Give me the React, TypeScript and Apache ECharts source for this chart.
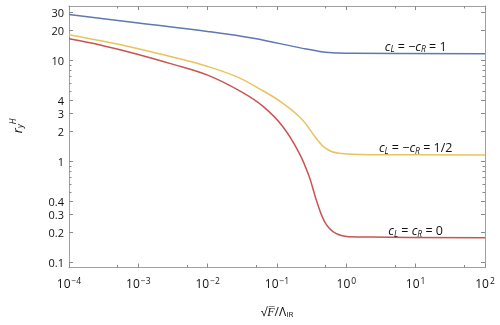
import React, { useEffect, useRef } from 'react';
import * as echarts from 'echarts';

// ---- data (raw values; axes are log10) ----
const xRange = [1e-4, 1e2];
const yRange = [0.089, 34.7];

const xMajorTicks = [1e-4, 1e-3, 1e-2, 1e-1, 1, 10, 100];
const xMinorTicks = [5e-4, 5e-3, 5e-2, 0.5, 5, 50];
const yLabelTicks = [0.1, 0.2, 0.3, 0.4, 1, 2, 3, 4, 10, 20, 30];
const yMinorTicks = [0.5, 0.6, 0.7, 0.8, 0.9, 5, 6, 7, 8, 9];

// c_L = -c_R = 1
const xBlue = [1e-4, 1e-3, 1e-2, 0.0456, 0.234, 0.502, 0.7, 1.2, 100];
const yBlue = [28.6, 23.5, 19.4, 16.6, 13.2, 12.05, 11.9, 11.78, 11.7];

// c_L = -c_R = 1/2
const xYellow = [1e-4, 3e-4, 1e-3, 3e-3, 1e-2, 0.0261, 0.0568, 0.122, 0.234, 0.362, 0.502, 0.78, 2.32, 100];
const yYellow = [18.0, 15.6, 13.1, 10.9, 8.73, 6.92, 5.22, 3.77, 2.58, 1.72, 1.35, 1.205, 1.167, 1.16];

// c_L = c_R = 0
const xRed = [1e-4, 3e-4, 1e-3, 3e-3, 1e-2, 0.0316, 0.0631, 0.1216, 0.21, 0.291, 0.382, 0.502, 0.697, 1.08, 2.32, 100];
const yRed = [16.4, 14.1, 11.5, 9.27, 7.16, 4.84, 3.51, 2.21, 1.205, 0.708, 0.385, 0.244, 0.195, 0.18, 0.178, 0.175];

// annotation anchors [x, y] and texts
const annBlue = [10, 13.9];
const annYellow = [10, 1.37];
const annRed = [10, 0.205];
const annTexts = [
  '{i|c}{sub|L}{n| = −}{i|c}{sub|R}{n| = 1}',
  '{i|c}{sub|L}{n| = −}{i|c}{sub|R}{n| = 1/2}',
  '{i|c}{sub|L}{n| = }{i|c}{sub|R}{n| = 0}',
];

const FONT = 'Open Sans';
const L = Math.log10;
const frameColor = '#a0a0a0';
const tickColor = '#8a8a8a';
const colors = ['#5f78b0', '#e9c35f', '#cc5252'];

const annRich = {
  i: { fontFamily: FONT, fontSize: 12.5, fontStyle: 'italic', color: '#111' },
  n: { fontFamily: FONT, fontSize: 12.5, color: '#111' },
  sub: { fontFamily: FONT, fontSize: 8.5, fontStyle: 'italic', color: '#111', padding: [5, 0, 0, 0] },
};

function fmtExp(v: number) {
  const n = Math.round(v);
  return n < 0 ? '−' + Math.abs(n) : String(n);
}

function mkSeries(xs: number[], ys: number[], color: string, ann: number[], text: string) {
  return {
    type: 'line',
    xAxisIndex: 0,
    yAxisIndex: 0,
    showSymbol: false,
    smooth: 0.4,
    lineStyle: { color, width: 1.5 },
    itemStyle: { color },
    data: xs.map((x, i) => [L(x), L(ys[i])]),
    markPoint: {
      symbol: 'circle',
      symbolSize: 0,
      silent: true,
      data: [
        {
          coord: [L(ann[0]), L(ann[1])],
          label: {
            show: true,
            position: 'inside',
            formatter: text,
            rich: annRich,
          },
        },
      ],
    },
  };
}

export default function App() {
  const ref = useRef<HTMLDivElement>(null);
  useEffect(() => {
    if (!ref.current) return;
    const chart = echarts.init(ref.current, null, { renderer: 'svg' });
    const xBase = {
      type: 'value',
      min: L(xRange[0]),
      max: L(xRange[1]),
      interval: 1,
      splitLine: { show: false },
    };
    const yBase = {
      type: 'value',
      min: L(yRange[0]),
      max: L(yRange[1]),
      splitLine: { show: false },
    };
    const frameLine = { show: true, onZero: false, lineStyle: { color: frameColor, width: 1 } };
    const noLine = { show: false, onZero: false };
    const option = {
      animation: false,
      grid: { left: 63, right: 15, top: 6, bottom: 57.5 },
      xAxis: [
        {
          ...xBase,
          position: 'bottom',
          axisLine: frameLine,
          axisTick: { show: true, inside: true, length: 4, customValues: xMajorTicks.map(L), lineStyle: { color: tickColor } },
          axisLabel: {
            margin: 8,
            customValues: xMajorTicks.map(L),
            formatter: (v: number) => `{b|10}{s|${fmtExp(v)}}`,
            rich: {
              b: { fontFamily: FONT, fontSize: 12, color: '#111' },
              s: { fontFamily: FONT, fontSize: 8.5, color: '#111', padding: [0, 0, 7, 1] },
            },
          },
          name: '{r|√}{f|F̅}{n|/Λ}{sub|IR}',
          nameLocation: 'middle',
          nameGap: 37,
          nameTextStyle: {
            rich: {
              r: { fontFamily: FONT, fontSize: 12, color: '#111' },
              f: { fontFamily: FONT, fontSize: 12, fontStyle: 'italic', color: '#111' },
              n: { fontFamily: FONT, fontSize: 12, color: '#111' },
              sub: { fontFamily: FONT, fontSize: 8, color: '#111', padding: [5, 0, 0, 0] },
            },
          },
        },
        {
          ...xBase,
          position: 'bottom',
          axisLine: noLine,
          axisTick: { show: true, inside: true, length: 2.5, customValues: xMinorTicks.map(L), lineStyle: { color: tickColor } },
          axisLabel: { show: false },
        },
        {
          ...xBase,
          position: 'top',
          axisLine: frameLine,
          axisTick: { show: true, inside: true, length: 4, customValues: xMajorTicks.map(L), lineStyle: { color: tickColor } },
          axisLabel: { show: false },
        },
        {
          ...xBase,
          position: 'top',
          axisLine: noLine,
          axisTick: { show: true, inside: true, length: 2.5, customValues: xMinorTicks.map(L), lineStyle: { color: tickColor } },
          axisLabel: { show: false },
        },
      ],
      yAxis: [
        {
          ...yBase,
          position: 'left',
          axisLine: frameLine,
          axisTick: { show: true, inside: true, length: 4, customValues: yLabelTicks.map(L), lineStyle: { color: tickColor } },
          axisLabel: {
            margin: 5,
            customValues: yLabelTicks.map(L),
            fontFamily: FONT,
            fontSize: 11,
            lineHeight: 10,
            color: '#111',
            formatter: (v: number) => {
              const r = Math.pow(10, v);
              return r < 1 ? r.toFixed(1) : String(Math.round(r));
            },
          },
          name: '{r|r}{sub|y}{sup|H}',
          nameLocation: 'middle',
          nameRotate: 90,
          nameGap: 44,
          nameTextStyle: {
            padding: [0, 0, 0, 22],
            rich: {
              r: { fontFamily: FONT, fontSize: 13, fontStyle: 'italic', color: '#111' },
              sub: { fontFamily: FONT, fontSize: 8.5, fontStyle: 'italic', color: '#111', padding: [6, 0, 0, 0] },
              sup: { fontFamily: FONT, fontSize: 8.5, fontStyle: 'italic', color: '#111', padding: [0, 0, 8, 0] },
            },
          },
        },
        {
          ...yBase,
          position: 'left',
          axisLine: noLine,
          axisTick: { show: true, inside: true, length: 2.5, customValues: yMinorTicks.map(L), lineStyle: { color: tickColor } },
          axisLabel: { show: false },
        },
        {
          ...yBase,
          position: 'right',
          axisLine: frameLine,
          axisTick: { show: true, inside: true, length: 4, customValues: yLabelTicks.map(L), lineStyle: { color: tickColor } },
          axisLabel: { show: false },
        },
        {
          ...yBase,
          position: 'right',
          axisLine: noLine,
          axisTick: { show: true, inside: true, length: 2.5, customValues: yMinorTicks.map(L), lineStyle: { color: tickColor } },
          axisLabel: { show: false },
        },
      ],
      series: [
        mkSeries(xBlue, yBlue, colors[0], annBlue, annTexts[0]),
        mkSeries(xYellow, yYellow, colors[1], annYellow, annTexts[1]),
        mkSeries(xRed, yRed, colors[2], annRed, annTexts[2]),
      ],
    };
    chart.setOption(option as any);
    return () => chart.dispose();
  }, []);
  return <div ref={ref} style={{ position: 'fixed', left: 0, top: 0, width: 500, height: 325 }} />;
}
